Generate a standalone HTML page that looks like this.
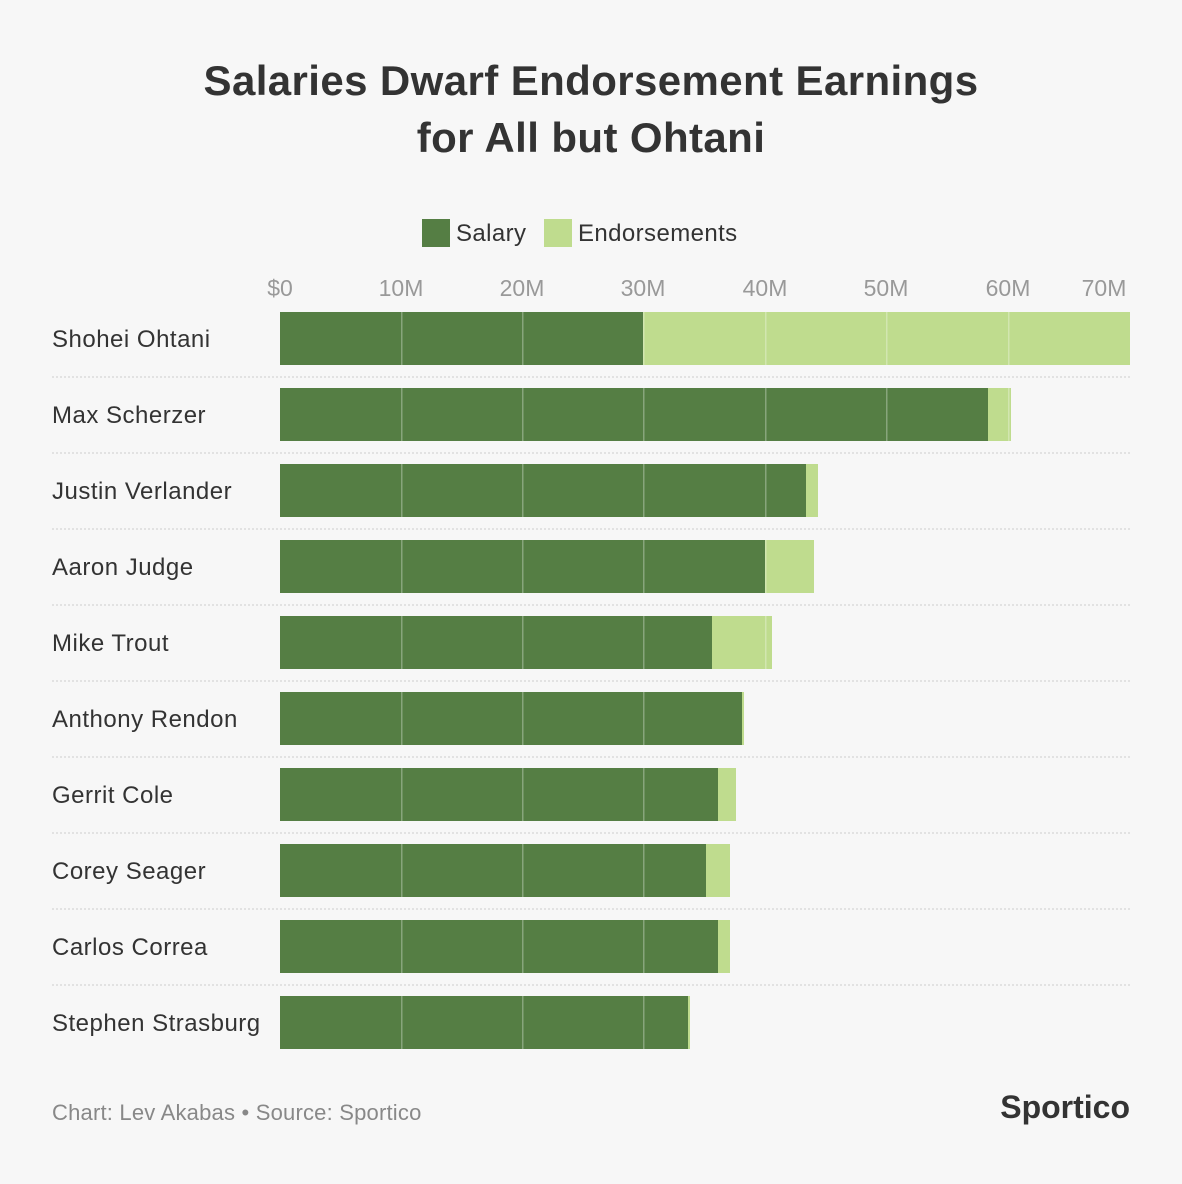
<!DOCTYPE html>
<html><head><meta charset="utf-8"><style>
html,body{margin:0;padding:0;background:#f7f7f7;}
body{width:1182px;height:1184px;position:relative;font-family:"Liberation Sans",sans-serif;color:#333;overflow:hidden}
.t{position:absolute;left:0;width:1182px;text-align:center;font-weight:bold;font-size:42px;letter-spacing:0.4px;color:#333;line-height:57px;top:52px}
</style></head><body>
<div class="t">Salaries Dwarf Endorsement Earnings<br>for All but Ohtani</div>
<svg width="1182" height="1184" style="position:absolute;left:0;top:0" font-family="Liberation Sans, sans-serif">
<rect x="422" y="219" width="28" height="28" fill="#557e44"/>
<text x="456" y="241" font-size="24" letter-spacing="0.4" fill="#333">Salary</text>
<rect x="544" y="219" width="28" height="28" fill="#bfdc8e"/>
<text x="578" y="241" font-size="24" letter-spacing="0.4" fill="#333">Endorsements</text>
<g font-size="23" fill="#999" text-anchor="middle">
<text x="280" y="296">$0</text><text x="401" y="296">10M</text><text x="522" y="296">20M</text><text x="643" y="296">30M</text><text x="765" y="296">40M</text><text x="886" y="296">50M</text><text x="1008" y="296">60M</text><text x="1104" y="296">70M</text>
</g>
<g id="rows" font-size="24" letter-spacing="0.5" fill="#333"></g>
<text x="52" y="1120" font-size="22" letter-spacing="0.2" fill="#888">Chart: Lev Akabas • Source: Sportico</text>
<text x="1130" y="1118" font-size="32" font-weight="bold" fill="#333" text-anchor="end">Sportico</text>
</svg>
<script>
var d=[["Shohei Ohtani",643,1130],["Max Scherzer",988,1011],["Justin Verlander",806,818],["Aaron Judge",765,814],["Mike Trout",712,772],["Anthony Rendon",742,744],["Gerrit Cole",718,736],["Corey Seager",706,730],["Carlos Correa",718,730],["Stephen Strasburg",688,690]];
var s="";
d.forEach(function(r,i){var y=312+i*76;
s+='<rect x="280" y="'+y+'" width="'+(r[1]-280)+'" height="53" fill="#557e44"/>';
s+='<rect x="'+r[1]+'" y="'+y+'" width="'+(r[2]-r[1])+'" height="53" fill="#bfdc8e"/>';
[401,522,643,765,886,1008].forEach(function(g){if(g<r[2])s+='<rect x="'+g+'" y="'+y+'" width="1.5" height="53" fill="#fff" opacity="0.3"/>';});
s+='<text x="52" y="'+(y+35)+'">'+r[0]+'</text>';
if(i<9)s+='<line x1="52" x2="1130" y1="'+(y+65)+'" y2="'+(y+65)+'" stroke="#ccc" stroke-dasharray="2,2"/>';
});
document.getElementById("rows").innerHTML=s;
</script>
</body></html>
